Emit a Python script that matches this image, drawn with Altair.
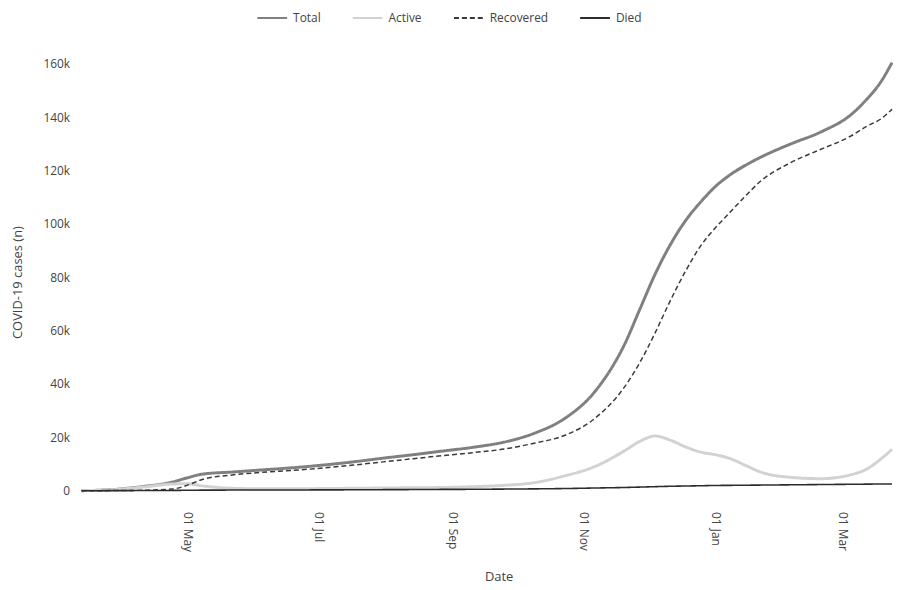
import altair as alt
import pandas as pd

dates = ["2020-03-13", "2020-03-27", "2020-04-10", "2020-04-24", "2020-05-01",
         "2020-05-08", "2020-05-22", "2020-06-05", "2020-06-19", "2020-07-03",
         "2020-07-17", "2020-07-31", "2020-08-14", "2020-08-28", "2020-09-11",
         "2020-09-25", "2020-10-09", "2020-10-23", "2020-11-06", "2020-11-20",
         "2020-11-27", "2020-12-04", "2020-12-11", "2020-12-18", "2020-12-25",
         "2021-01-01", "2021-01-08", "2021-01-15", "2021-01-22", "2021-02-05",
         "2021-02-19", "2021-03-05", "2021-03-12", "2021-03-19", "2021-03-24"]
total = [0, 400, 1500, 3200, 4800,
         6200, 7000, 7800, 8600, 9600,
         10800, 12200, 13500, 14900, 16300,
         18200, 21500, 27000, 37000, 55000,
         68000, 81000, 92000, 101000, 108000,
         114000, 118500, 122000, 125000, 130000,
         134500, 141000, 146500, 153500, 160500]
active = [0, 350, 1300, 2500, 2600,
          1800, 900, 700, 700, 800,
          900, 1000, 1100, 1200, 1500,
          2000, 3000, 5500, 9000, 15000,
          18500, 20500, 19000, 16500, 14500,
          13500, 12000, 9500, 7000, 5000,
          4500, 6000, 8000, 12000, 15500]
recovered = [0, 30, 150, 600, 2000,
             4200, 5900, 6900, 7600, 8500,
             9600, 10800, 12000, 13200, 14300,
             15600, 17800, 20700, 27000, 39000,
             48000, 59000, 71000, 82000, 91500,
             98500, 104500, 110500, 116000, 123000,
             128000, 133000, 136500, 139500, 143000]
died = [0, 10, 50, 100, 150,
        200, 230, 250, 270, 300,
        330, 380, 420, 480, 520,
        600, 680, 800, 1000, 1200,
        1350, 1500, 1650, 1750, 1850,
        1950, 2000, 2050, 2100, 2200,
        2300, 2400, 2450, 2500, 2500]

series = ["Total", "Active", "Recovered", "Died"]
colors = ["#808080", "#d2d2d2", "#3a3a3a", "#2c2c2c"]
widths = [3, 3, 1.5, 1.6]
dashes = [[1, 0], [1, 0], [5, 3], [1, 0]]
tick_dates = ["2020-05-01", "2020-07-01", "2020-09-01", "2020-11-01", "2021-01-01", "2021-03-01"]
y_ticks = [0, 20000, 40000, 60000, 80000, 100000, 120000, 140000, 160000]

rows = []
for name, vals in zip(series, [total, active, recovered, died]):
    for d, v in zip(dates, vals):
        rows.append({"Date": d, "Series": name, "Cases": v})
df = pd.DataFrame(rows)


def dt(s):
    y, m, d = map(int, s.split("-"))
    return alt.DateTime(year=y, month=m, date=d, utc=True)


FONT = "Open Sans"
legend = alt.Legend(title=None, orient="none", legendX=176, legendY=-57,
                    direction="horizontal", symbolType="stroke", symbolSize=900,
                    symbolStrokeWidth=2, labelFontSize=12, labelFont=FONT,
                    labelColor="#444444", columnPadding=28, labelOffset=5)

xenc = alt.X("Date:T",
             scale=alt.Scale(type="utc", domain=[dt("2020-03-13"), dt("2021-03-24")]),
             axis=alt.Axis(values=[dt(s) for s in tick_dates], format="%d %b",
                           labelAngle=90, labelPadding=21, labelFontSize=12,
                           labelFont=FONT, labelColor="#444444",
                           domain=False, ticks=False, grid=False,
                           title="Date", titleFont=FONT, titleFontSize=13,
                           titleFontWeight="normal", titleColor="#444444",
                           titleX=420, titleY=86, titleBaseline="middle"))
yenc = alt.Y("Cases:Q",
             scale=alt.Scale(domain=[0, 162000], nice=False, zero=True),
             axis=alt.Axis(values=y_ticks,
                           labelExpr="datum.value == 0 ? '0' : format(datum.value / 1000, 'd') + 'k'",
                           labelPadding=12,
                           labelFontSize=12, labelFont=FONT, labelColor="#444444",
                           domain=False, ticks=False, grid=False,
                           title="COVID-19 cases (n)", titleFont=FONT, titleFontSize=13,
                           titleFontWeight="normal", titleColor="#444444",
                           titleX=-64, titleY=225, titleBaseline="middle"))
cenc = alt.Color("Series:N", scale=alt.Scale(domain=series, range=colors), legend=legend)
denc = alt.StrokeDash("Series:N", scale=alt.Scale(domain=series, range=dashes), legend=legend)

layers = []
for name, w in zip(series, widths):
    layers.append(
        alt.Chart(df).transform_filter(alt.datum.Series == name)
        .mark_line(interpolate="monotone", strokeWidth=w)
        .encode(x=xenc, y=yenc, color=cenc, strokeDash=denc)
    )

chart = alt.layer(*layers).properties(
    width=816, height=435,
    padding={"left": 74, "top": 49, "right": 2, "bottom": 92},
    autosize=alt.AutoSizeParams(type="none"),
    background="white",
).configure_view(stroke=None)

chart.save("out.html", embed_options={"renderer": "svg", "actions": False})
